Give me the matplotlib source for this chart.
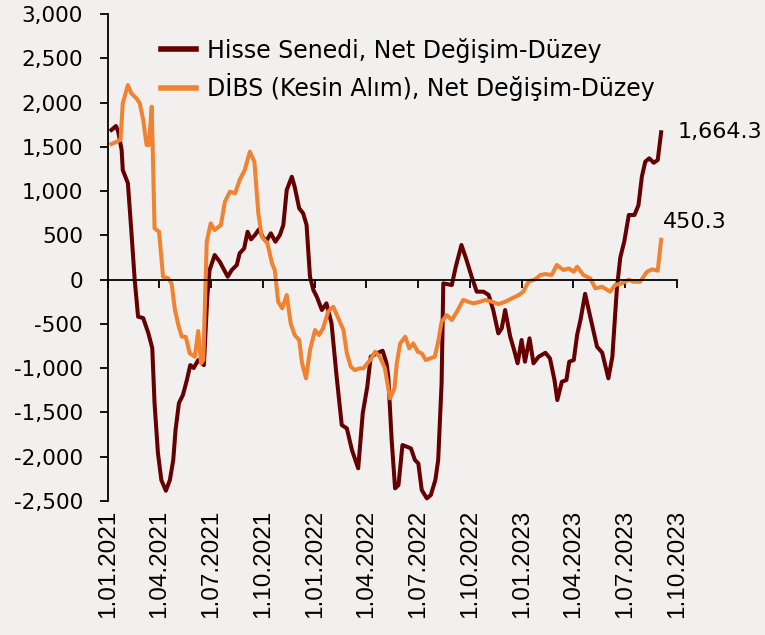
import matplotlib.pyplot as plt
import matplotlib.ticker as mticker
import numpy as np
import pandas as pd

# gün sayısı: 1.01.2021'den itibaren
start = pd.Timestamp("2021-01-01")

hisse_day = [6, 14, 18, 24, 26, 35, 41, 47, 53, 62, 71, 78, 82, 88, 94, 102, 109,
             115, 119, 125, 132, 139, 145, 151, 159, 165, 169, 175, 179, 188, 197,
             211, 218, 227, 232, 240, 246, 252, 259, 266, 274, 280, 287, 295, 303,
             309, 315, 324, 329, 337, 344, 350, 356, 362, 368, 377, 385, 394, 403,
             412, 421, 430, 441, 449, 457, 463, 474, 484, 491, 494, 500, 506, 512,
             519, 527, 534, 541, 547, 553, 562, 569, 577, 582, 588, 591, 606, 613,
             623, 632, 641, 650, 662, 671, 679, 688, 694, 700, 709, 715, 722, 729,
             735, 743, 750, 759, 771, 779, 787, 792, 800, 808, 813, 821, 827, 833,
             841, 850, 862, 871, 882, 889, 897, 903, 910, 918, 928, 935, 941, 947,
             954, 962, 969, 975]
hisse_val = [1690, 1735, 1670, 1464, 1238, 1090, 560, 0, -419, -434, -603, -773,
             -1394, -1959, -2264, -2384, -2264, -2037, -1699, -1394, -1303, -1134,
             -965, -998, -908, -942, -965, -193, 108, 278, 202, 33, 108, 165, 297,
             353, 541, 455, 504, 568, 466, 447, 523, 428, 504, 617, 1012, 1162,
             1049, 805, 749, 617, 33, -117, -193, -343, -268, -494, -1097, -1642,
             -1680, -1925, -2131, -1510, -1210, -871, -832, -803, -945, -1097,
             -1812, -2357, -2320, -1868, -1887, -1906, -2037, -2075, -2376, -2470,
             -2433, -2263, -2037, -1171, -42, -61, 146, 391, 221, 33, -136, -136,
             -174, -343, -607, -550, -343, -645, -776, -945, -682, -927, -663,
             -945, -871, -826, -889, -1134, -1360, -1153, -1134, -927, -908, -620,
             -450, -160, -419, -758, -823, -1115, -871, -100, 250, 430, 730, 730,
             840, 1162, 1332, 1370, 1320, 1351, 1664.3]

dibs_day = [6, 15, 22, 26, 35, 41, 50, 56, 62, 68, 72, 77, 79, 82, 90, 97, 106,
            112, 118, 124, 130, 137, 144, 153, 159, 164, 168, 174, 181, 188, 199,
            206, 215, 224, 232, 241, 250, 258, 265, 271, 281, 289, 294, 300, 307,
            315, 322, 326, 329, 337, 342, 349, 356, 365, 372, 379, 388, 397, 406,
            415, 421, 428, 435, 444, 450, 462, 471, 479, 488, 497, 505, 509, 515,
            524, 531, 538, 546, 553, 560, 568, 576, 582, 588, 597, 606, 615, 626,
            635, 644, 656, 665, 677, 688, 700, 712, 724, 732, 741, 753, 762, 771,
            782, 791, 803, 812, 821, 827, 838, 850, 859, 871, 885, 894, 906, 918,
            926, 938, 950, 959, 969, 975]
dibs_val = [1531, 1557, 1577, 1991, 2198, 2104, 2048, 1991, 1803, 1520, 1520,
            1953, 1426, 579, 541, 33, 15, -42, -343, -513, -645, -645, -832, -871,
            -580, -945, -908, 428, 636, 560, 617, 880, 993, 975, 1125, 1238, 1445,
            1332, 749, 485, 410, 184, 108, -250, -324, -174, -494, -569, -626,
            -682, -945, -1115, -795, -569, -626, -550, -362, -306, -437, -569,
            -832, -984, -1021, -1002, -1002, -908, -814, -871, -1000, -1341, -1228,
            -945, -720, -645, -776, -720, -814, -832, -908, -889, -871, -700, -475,
            -400, -456, -362, -230, -250, -268, -250, -230, -250, -276, -250, -211,
            -174, -136, -24, 3, 52, 63, 52, 165, 108, 127, 89, 146, 52, 15, -98,
            -80, -136, -61, -42, 0, -24, -24, 89, 116, 101, 450.3]

tick_labels = ["1.01.2021", "1.04.2021", "1.07.2021", "1.10.2021",
               "1.01.2022", "1.04.2022", "1.07.2022", "1.10.2022",
               "1.01.2023", "1.04.2023", "1.07.2023", "1.10.2023"]

bg = "#f2f0ef"
dark = "#660000"
orange = "#f08232"

hisse_dates = start + pd.to_timedelta(hisse_day, unit="D")
dibs_dates = start + pd.to_timedelta(dibs_day, unit="D")
tick_dates = pd.to_datetime(tick_labels, format="%d.%m.%Y")

fig = plt.figure(figsize=(7.65, 6.35), dpi=100, facecolor=bg)
ax = fig.add_axes([0.1412, 0.211, 0.7438, 0.767], facecolor=bg)

ax.plot(hisse_dates, hisse_val, color=dark, lw=2.9,
        label="Hisse Senedi, Net Değişim-Düzey", solid_joinstyle="round")
ax.plot(dibs_dates, dibs_val, color=orange, lw=2.9,
        label="DİBS (Kesin Alım), Net Değişim-Düzey", solid_joinstyle="round")

ax.set_xlim(tick_dates[0], tick_dates[-1])
ax.set_ylim(-2500, 3000)
ax.set_yticks(np.arange(-2500, 3001, 500))
ax.yaxis.set_major_formatter(mticker.FuncFormatter(lambda v, p: f"{v:,.0f}"))

ax.spines["top"].set_visible(False)
ax.spines["right"].set_visible(False)
ax.spines["bottom"].set_position(("data", 0))
ax.spines["bottom"].set_linewidth(1.3)
ax.spines["left"].set_linewidth(1.3)

ax.set_xticks(tick_dates)
ax.set_xticklabels(tick_labels, rotation=90, fontsize=17.5,
                   family=["Liberation Sans", "DejaVu Sans"])
ax.tick_params(axis="x", direction="out", length=6, width=1.3, pad=160)
ax.tick_params(axis="y", direction="out", length=6, width=1.3, pad=12,
               labelsize=15.5)

ax.annotate(f"{hisse_val[-1]:,.1f}", xy=(hisse_dates[-1], hisse_val[-1]),
            xytext=(12, 0), textcoords="offset points", va="center",
            fontsize=16)
ax.annotate(f"{dibs_val[-1]:,.1f}", xy=(dibs_dates[-1], dibs_val[-1]),
            xytext=(1, 13), textcoords="offset points", va="center",
            fontsize=16)

leg = ax.legend(loc="upper left", bbox_to_anchor=(0.055, 0.995), frameon=False,
                fontsize=17, handlelength=1.5, labelspacing=0.45,
                handletextpad=0.45)
for h in leg.get_lines():
    h.set_linewidth(4)

fig.savefig("out.png", dpi=100, facecolor=bg)
